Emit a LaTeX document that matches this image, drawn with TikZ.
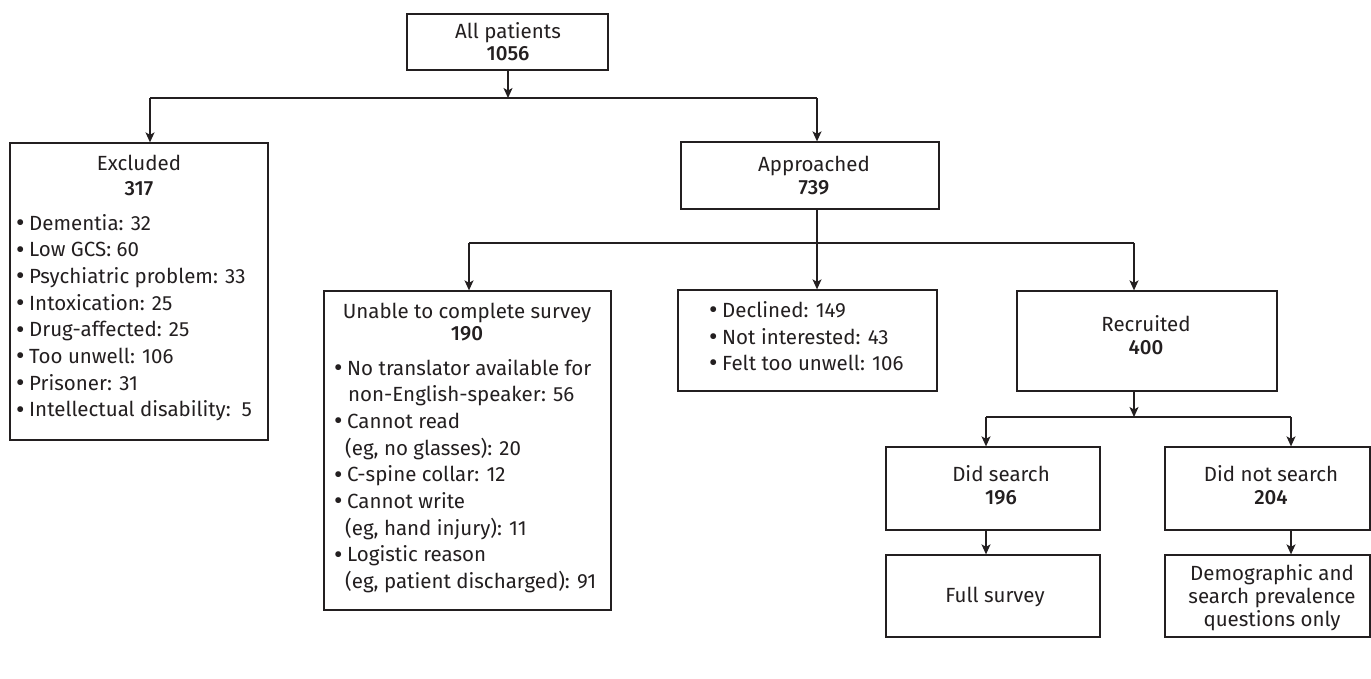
\documentclass[tikz,border=0pt]{standalone}
\usepackage{fontspec}
\setmainfont{Fira Sans}[BoldFont={Fira Sans Medium}]
\usetikzlibrary{arrows.meta}
\definecolor{ink}{RGB}{35,31,32}
\newcommand\bul{\makebox[13pt][l]{\fontsize{26}{26}\selectfont\raisebox{-1.4pt}{•}}}
\begin{document}
\begin{tikzpicture}[x=1pt,y=-1pt,
  box/.style={draw=ink,line width=1.3pt,rectangle,inner sep=0pt},
  txt/.style={inner sep=0pt,text=ink,font=\fontsize{20.5}{24}\selectfont},
  arr/.style={draw=ink,line width=1.3pt,-{Stealth[length=10pt,width=9pt,inset=2.5pt]}},
  ln/.style={draw=ink,line width=1.3pt}]
\useasboundingbox (0,0) rectangle (1371,678);
\fill[white] (0,0) rectangle (1371,678);
% boxes
\node[box,minimum width=201pt,minimum height=56pt] (all) at (507.5,42) {};
\node[box,minimum width=258pt,minimum height=297pt] (excl) at (139,291.5) {};
\node[box,minimum width=258pt,minimum height=67pt] (appr) at (810,175.5) {};
\node[box,minimum width=287pt,minimum height=319pt] (unable) at (467.5,450.5) {};
\node[box,minimum width=259pt,minimum height=101pt] (decl) at (807.5,340.5) {};
\node[box,minimum width=260pt,minimum height=100pt] (recr) at (1147,341) {};
\node[box,minimum width=214pt,minimum height=83pt] (did) at (993,488.5) {};
\node[box,minimum width=205pt,minimum height=83pt] (didnot) at (1267.5,488.5) {};
\node[box,minimum width=214pt,minimum height=82pt] (full) at (993,596) {};
\node[box,minimum width=205pt,minimum height=82pt] (demo) at (1267.5,596) {};
% texts
\node[txt,anchor=base] (allt) at (508,38) {All patients};
\node[txt,anchor=base] (alln) at (508,60) {\bfseries 1056};
\node[txt,anchor=base] (exclt) at (139,170) {Excluded};
\node[txt,anchor=base] (excln) at (139,195) {\bfseries 317};
\node[txt,anchor=base west] (e1) at (16,230) {\bul Dementia: 32};
\node[txt,anchor=base west] (e2) at (16,256.7) {\bul Low GCS: 60};
\node[txt,anchor=base west] (e3) at (16,283.4) {\bul Psychiatric problem: 33};
\node[txt,anchor=base west] (e4) at (16,310.1) {\bul Intoxication: 25};
\node[txt,anchor=base west] (e5) at (16,336.8) {\bul Drug-affected: 25};
\node[txt,anchor=base west] (e6) at (16,363.5) {\bul Too unwell: 106};
\node[txt,anchor=base west] (e7) at (16,390.2) {\bul Prisoner: 31};
\node[txt,anchor=base west] (e8) at (16,416.9) {\bul Intellectual disability:\ \ 5};
\node[txt,anchor=base] (apprt) at (814,171) {Approached};
\node[txt,anchor=base] (apprn) at (814,194) {\bfseries 739};
\node[txt,anchor=base] (unt) at (467,318) {Unable to complete survey};
\node[txt,anchor=base] (unn) at (467,340) {\bfseries 190};
\node[txt,anchor=base west] (u1) at (334,375) {\bul No translator available for};
\node[txt,anchor=base west] (u2) at (348,401.7) {non-English-speaker: 56};
\node[txt,anchor=base west] (u3) at (334,428.4) {\bul Cannot read};
\node[txt,anchor=base west] (u4) at (345,455.1) {(eg, no glasses): 20};
\node[txt,anchor=base west] (u5) at (334,481.8) {\bul C-spine collar: 12};
\node[txt,anchor=base west] (u6) at (334,508.5) {\bul Cannot write};
\node[txt,anchor=base west] (u7) at (345,535.2) {(eg, hand injury): 11};
\node[txt,anchor=base west] (u8) at (334,561.9) {\bul Logistic reason};
\node[txt,anchor=base west] (u9) at (345,588.6) {(eg, patient discharged): 91};
\node[txt,anchor=base west] (d1) at (709,317) {\bul Declined: 149};
\node[txt,anchor=base west] (d2) at (709,344) {\bul Not interested: 43};
\node[txt,anchor=base west] (d3) at (709,370) {\bul Felt too unwell: 106};
\node[txt,anchor=base] (recrt) at (1146,331) {Recruited};
\node[txt,anchor=base] (recrn) at (1146,354) {\bfseries 400};
\node[txt,anchor=base] (didt) at (1001,481) {Did search};
\node[txt,anchor=base] (didn) at (1001,504) {\bfseries 196};
\node[txt,anchor=base] (didnott) at (1271,481) {Did not search};
\node[txt,anchor=base] (didnotn) at (1271,504) {\bfseries 204};
\node[txt,anchor=base] (fullt) at (995,602) {Full survey};
\node[txt,anchor=base] (demo1) at (1272,580) {Demographic and};
\node[txt,anchor=base] (demo2) at (1272,603) {search prevalence};
\node[txt,anchor=base] (demo3) at (1272,626) {questions only};
% junctions
\coordinate (j1) at (508,98);
\coordinate (j1l) at (150,98);
\coordinate (j1r) at (817,98);
\coordinate (j2) at (817,243);
\coordinate (j2l) at (469,243);
\coordinate (j2r) at (1134,243);
\coordinate (j3) at (1134,417);
\coordinate (j3l) at (986,417);
\coordinate (j3r) at (1291,417);
% connectors
\draw[arr] (all.south -| j1) -- (j1);
\draw[ln] (j1l) -- (j1r);
\draw[arr] (j1l) -- (j1l |- excl.north);
\draw[arr] (j1r) -- (j1r |- appr.north);
\draw[ln] (appr.south -| j2) -- (j2);
\draw[ln] (j2l) -- (j2r);
\draw[arr] (j2l) -- (j2l |- unable.north);
\draw[arr] (j2) -- (j2 |- decl.north);
\draw[arr] (j2r) -- (j2r |- recr.north);
\draw[arr] (recr.south -| j3) -- (j3);
\draw[ln] (j3l) -- (j3r);
\draw[arr] (j3l) -- (j3l |- did.north);
\draw[arr] (j3r) -- (j3r |- didnot.north);
\draw[arr] (did.south -| j3l) -- (j3l |- full.north);
\draw[arr] (didnot.south -| j3r) -- (j3r |- demo.north);
\end{tikzpicture}
\end{document}
